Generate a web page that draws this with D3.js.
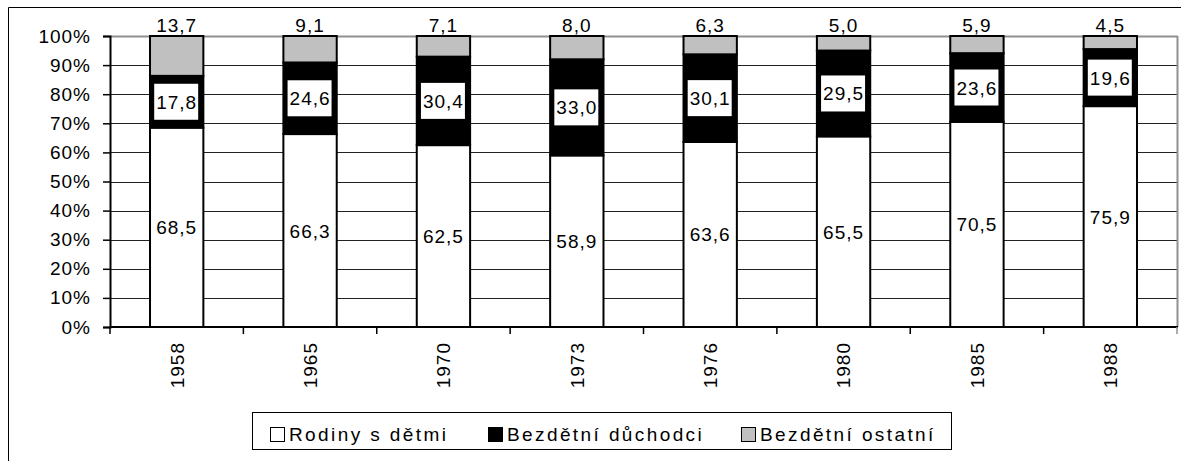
<!DOCTYPE html>
<html>
<head>
<meta charset="utf-8">
<script src="https://cdn.jsdelivr.net/npm/d3@7"></script>
<style>
  body { margin: 0; background: #fff; }
  svg text { font-family: "Liberation Sans", Arial, sans-serif; fill: #000; }
</style>
</head>
<body>
<svg id="chart"></svg>
<script>
var width = 1181;
var height = 461;

// data
var years = ["1958", "1965", "1970", "1973", "1976", "1980", "1985", "1988"];
var rodiny = [68.5, 66.3, 62.5, 58.9, 63.6, 65.5, 70.5, 75.9];
var duchodci = [17.8, 24.6, 30.4, 33.0, 30.1, 29.5, 23.6, 19.6];
var ostatni = [13.7, 9.1, 7.1, 8.0, 6.3, 5.0, 5.9, 4.5];
var yTicks = [0, 0.1, 0.2, 0.3, 0.4, 0.5, 0.6, 0.7, 0.8, 0.9, 1];

var Legend_List = [
  { key: "rodiny", name: "Rodiny s dětmi", color: "#ffffff" },
  { key: "duchodci", name: "Bezdětní důchodci", color: "#000000" },
  { key: "ostatni", name: "Bezdětní ostatní", color: "#c0c0c0" }
];

var rows = years.map(function(y, i) {
  return { year: y, rodiny: rodiny[i], duchodci: duchodci[i], ostatni: ostatni[i] };
});

var margin = { left: 110, right: 1177, top: 36, bottom: 327 };

var svg = d3.select("#chart").attr("width", width).attr("height", height);

// outer frame (top + left only visible)
svg.append("line").attr("x1", 8.5).attr("x2", width).attr("y1", 7.5).attr("y2", 7.5)
  .attr("stroke", "#000").attr("stroke-width", 1);
svg.append("line").attr("x1", 8.5).attr("x2", 8.5).attr("y1", 7.5).attr("y2", height)
  .attr("stroke", "#000").attr("stroke-width", 1);

var x = d3.scaleBand()
  .domain(years)
  .range([margin.left, margin.right])
  .paddingInner(0.6)
  .paddingOuter(0.3);

var y = d3.scaleLinear().domain([0, 1]).range([margin.bottom, margin.top]);

var stack = d3.stack()
  .keys(Legend_List.map(function(d) { return d.key; }))
  .offset(d3.stackOffsetExpand);
var series = stack(rows);

// gridlines
svg.append("g").selectAll("line")
  .data(yTicks.filter(function(t) { return t > 0 && t < 1; }))
  .enter().append("line")
  .attr("x1", margin.left).attr("x2", margin.right)
  .attr("y1", function(d) { return Math.round(y(d)) + 0.5; })
  .attr("y2", function(d) { return Math.round(y(d)) + 0.5; })
  .attr("stroke", "#222").attr("stroke-width", 1);

// plot border (grey) top and right
svg.append("line").attr("x1", margin.left).attr("x2", margin.right + 0.5)
  .attr("y1", margin.top + 0.5).attr("y2", margin.top + 0.5)
  .attr("stroke", "#909090").attr("stroke-width", 2);
svg.append("line").attr("x1", margin.right + 0.5).attr("x2", margin.right + 0.5)
  .attr("y1", margin.top).attr("y2", margin.bottom)
  .attr("stroke", "#909090").attr("stroke-width", 2);

// bars
var layer = svg.append("g").selectAll("g")
  .data(series)
  .enter().append("g")
  .attr("fill", function(d, i) { return Legend_List[i].color; });

layer.selectAll("rect")
  .data(function(d) { return d; })
  .enter().append("rect")
  .attr("x", function(d) { return x(d.data.year); })
  .attr("width", x.bandwidth())
  .attr("y", function(d) { return y(d[1]); })
  .attr("height", function(d) { return y(d[0]) - y(d[1]); })
  .attr("stroke", "#000")
  .attr("stroke-width", 2);

// y axis
var yAxis = svg.append("g")
  .attr("transform", "translate(" + margin.left + ",0)")
  .call(d3.axisLeft(y).tickValues(yTicks).tickFormat(d3.format(".0%")).tickSize(7).tickPadding(12));
yAxis.select(".domain").attr("stroke", "#000").attr("stroke-width", 2);
yAxis.selectAll(".tick line").attr("stroke", "#000").attr("stroke-width", 1.5);
yAxis.selectAll("text")
  .style("font-size", "19px")
  .style("letter-spacing", "1px")
  .attr("font-family", null);

// x axis
var xAxis = svg.append("g")
  .attr("transform", "translate(0," + margin.bottom + ")")
  .call(d3.axisBottom(x).tickSize(0));
xAxis.select(".domain").attr("stroke", "#000").attr("stroke-width", 2)
  .attr("d", "M" + margin.left + ",0H" + (margin.right + 1));
xAxis.selectAll("text")
  .attr("transform", "rotate(-90)")
  .attr("x", -15)
  .attr("y", 0)
  .attr("dy", "0.36em")
  .style("text-anchor", "end")
  .style("font-size", "19px")
  .style("letter-spacing", "1px")
  .attr("font-family", null);

// boundary ticks between categories
var step = x.step();
svg.append("g").selectAll("line")
  .data(d3.range(years.length + 1))
  .enter().append("line")
  .attr("x1", function(i) { return margin.left + i * step; })
  .attr("x2", function(i) { return margin.left + i * step; })
  .attr("y1", margin.bottom)
  .attr("y2", margin.bottom + 7)
  .attr("stroke", function(i) { return i === years.length ? "#909090" : "#000"; })
  .attr("stroke-width", 1.5);

// value labels
var fmt = function(v) { return d3.format(".1f")(v).replace(".", ","); };
var labels = svg.append("g");

series.forEach(function(s, si) {
  s.forEach(function(d) {
    var cx = x(d.data.year) + x.bandwidth() / 2;
    var v = d.data[s.key];
    if (si === 2) {
      labels.append("text")
        .attr("x", cx)
        .attr("y", y(d[1]) - 4)
        .attr("text-anchor", "middle")
        .style("font-size", "19px")
        .style("letter-spacing", "1px")
        .text(fmt(v));
    } else {
      var cy = (y(d[0]) + y(d[1])) / 2;
      var g = labels.append("g");
      var bg = g.append("rect").attr("fill", "#fff");
      var t = g.append("text")
        .attr("x", cx)
        .attr("y", cy + 7)
        .attr("text-anchor", "middle")
        .style("font-size", "19px")
        .style("letter-spacing", "1px")
        .text(fmt(v));
      var w = t.node().getComputedTextLength();
      bg.attr("x", cx - w / 2 - 2)
        .attr("width", w + 3)
        .attr("y", cy - 18)
        .attr("height", 36);
    }
  });
});

// legend
var legend = svg.append("g").attr("class", "legend");
legend.append("rect")
  .attr("x", 252.5).attr("y", 412.5)
  .attr("width", 699).attr("height", 37)
  .attr("fill", "#fff").attr("stroke", "#000").attr("stroke-width", 1);

var legendX = [270, 488, 741];
Legend_List.forEach(function(element, i) {
  var row = legend.append("g").attr("transform", "translate(" + legendX[i] + ",427)");
  row.append("rect")
    .attr("x", 0.5).attr("y", 0.5)
    .attr("width", 14).attr("height", 14)
    .attr("fill", element.color)
    .attr("stroke", "#000").attr("stroke-width", 1);
  row.append("text")
    .attr("x", 19)
    .attr("y", 14)
    .style("font-size", "19px")
    .style("letter-spacing", "2.4px")
    .text(element.name);
});
</script>
</body>
</html>
